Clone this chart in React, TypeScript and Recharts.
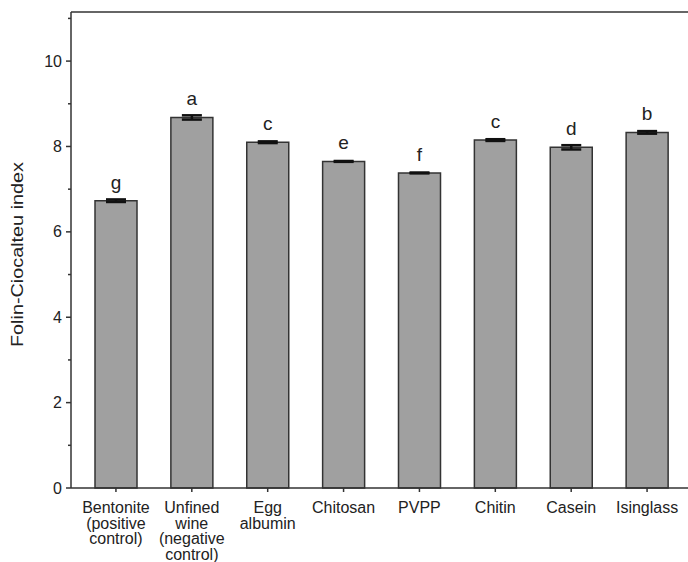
import { Bar, BarChart, ErrorBar, LabelList, ReferenceLine, XAxis, YAxis } from "recharts";

const categories = [
  "Bentonite\n(positive\ncontrol)",
  "Unfined\nwine\n(negative\ncontrol)",
  "Egg\nalbumin",
  "Chitosan",
  "PVPP",
  "Chitin",
  "Casein",
  "Isinglass",
];
const values = [6.73, 8.68, 8.1, 7.65, 7.38, 8.15, 7.98, 8.33];
const errors = [0.03, 0.05, 0.02, 0.01, 0.01, 0.02, 0.05, 0.03];
const letters = ["g", "a", "c", "e", "f", "c", "d", "b"];
const yTicks = [0, 1, 2, 3, 4, 5, 6, 7, 8, 9, 10, 11];
const yMax = 11.15;

const data = categories.map((name, i) => ({
  name,
  value: values[i],
  err: errors[i],
  letter: letters[i],
}));

const FONT = "'Liberation Sans', Arial, Helvetica, sans-serif";
const AXIS = "#333";

function YTick({ x, y, payload }: any) {
  const major = payload.value % 2 === 0;
  return (
    <g>
      <line x1={x - (major ? 5 : 3)} x2={x} y1={y} y2={y} stroke={AXIS} strokeWidth={1.5} />
      {major && (
        <text x={x - 9} y={y} dy={5.5} textAnchor="end" fontSize={16} fill="#222" fontFamily={FONT}>
          {payload.value}
        </text>
      )}
    </g>
  );
}

function XTick({ x, y, payload }: any) {
  const lines = String(payload.value).split("\n");
  return (
    <g>
      <line x1={x} x2={x} y1={y} y2={y + 4} stroke={AXIS} strokeWidth={1.5} />
      <text x={x} y={y + 25} textAnchor="middle" fontSize={16} fill="#222" fontFamily={FONT}>
        {lines.map((l, i) => (
          <tspan key={i} x={x} dy={i === 0 ? 0 : 15.5}>
            {l}
          </tspan>
        ))}
      </text>
    </g>
  );
}

function YLabel() {
  const cx = 23;
  const cy = 254.5;
  return (
    <text
      x={cx}
      y={cy}
      transform={`rotate(-90, ${cx}, ${cy})`}
      textAnchor="middle"
      fontSize={16}
      textLength={185}
      lengthAdjust="spacingAndGlyphs"
      fill="#222"
      fontFamily={FONT}
    >
      Folin-Ciocalteu index
    </text>
  );
}

export default function App() {
  return (
    <div style={{ position: "absolute", left: 0, top: 0, background: "#fff" }}>
      <BarChart
        width={688}
        height={562}
        data={data}
        margin={{ top: 12, right: 0, bottom: 0, left: 0 }}
        barSize={42}
      >
        <XAxis
          dataKey="name"
          interval={0}
          height={74}
          padding={{ left: 7, right: 3 }}
          stroke={AXIS}
          strokeWidth={1.5}
          tickLine={false}
          tickSize={0}
          tickMargin={0}
          tick={<XTick />}
        />
        <YAxis
          width={71}
          domain={[0, yMax]}
          ticks={yTicks}
          interval={0}
          stroke={AXIS}
          strokeWidth={1.5}
          tickLine={false}
          tickSize={0}
          tickMargin={0}
          tick={<YTick />}
          label={<YLabel />}
        />
        <ReferenceLine y={yMax} stroke={AXIS} strokeWidth={1.5} />
        <Bar dataKey="value" fill="#a0a0a0" stroke={AXIS} strokeWidth={1.5} isAnimationActive={false}>
          <ErrorBar dataKey="err" width={10} stroke="#111" strokeWidth={2.5} direction="y" />
          <LabelList
            dataKey="letter"
            position="top"
            offset={12}
            fontSize={19}
            fill="#222"
            fontFamily={FONT}
          />
        </Bar>
      </BarChart>
    </div>
  );
}
